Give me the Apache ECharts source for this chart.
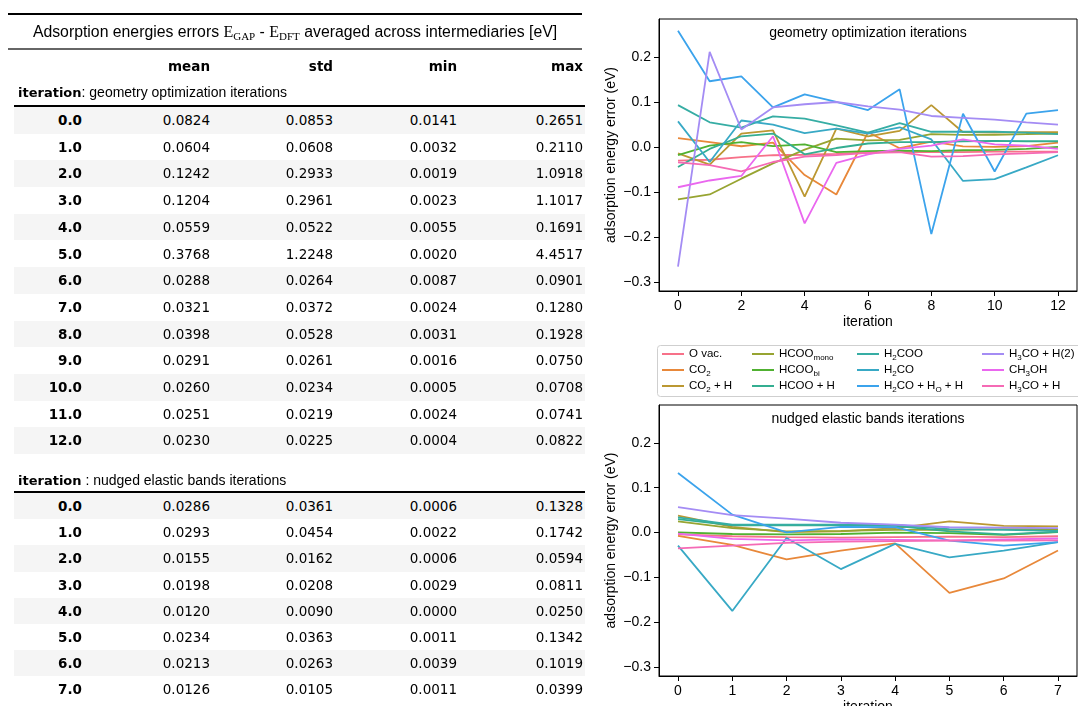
<!DOCTYPE html>
<html>
<head>
<meta charset="utf-8">
<script src="https://cdn.jsdelivr.net/npm/echarts@6/dist/echarts.min.js"></script>
<style>
  html, body { margin: 0; padding: 0; background: #fff; }
  #chart { position: absolute; left: 0; top: 0; width: 1078px; height: 706px; }
  #table { position: absolute; left: 0; top: 0; width: 600px; height: 706px; color: #000; font-family: 'DejaVu Sans', sans-serif; }
  #table div { position: absolute; white-space: nowrap; }
  .num { text-align: right; font-size: 13.5px; }
  .idx { text-align: right; font-size: 13.5px; font-weight: bold; }
  .hdr { text-align: right; font-size: 13.5px; font-weight: bold; }
  .sec b { font-family: 'DejaVu Sans'; font-size: 13px; }
  .sec span { font-family: 'Liberation Sans', Arial, sans-serif; font-size: 14px; }
  .ttl { font-family: 'Liberation Sans', Arial, sans-serif; font-size: 15.8px; }
  .ttl .m { font-family: 'Liberation Serif', 'DejaVu Serif', serif; font-size: 16px; }
  .ttl sub { font-size: 11px; vertical-align: -3px; line-height: 0; }
</style>
</head>
<body>
<div id="chart"></div>
<div id="table"></div>
<script>
// ---- summary table: mean / std / min / max of |E_GAP - E_DFT| per iteration ----
const tableColumns = ['mean', 'std', 'min', 'max'];

const geoIterLabels = ['0.0', '1.0', '2.0', '3.0', '4.0', '5.0', '6.0', '7.0', '8.0', '9.0', '10.0', '11.0', '12.0'];
const geoMean = ['0.0824', '0.0604', '0.1242', '0.1204', '0.0559', '0.3768', '0.0288', '0.0321', '0.0398', '0.0291', '0.0260', '0.0251', '0.0230'];
const geoStd  = ['0.0853', '0.0608', '0.2933', '0.2961', '0.0522', '1.2248', '0.0264', '0.0372', '0.0528', '0.0261', '0.0234', '0.0219', '0.0225'];
const geoMin  = ['0.0141', '0.0032', '0.0019', '0.0023', '0.0055', '0.0020', '0.0087', '0.0024', '0.0031', '0.0016', '0.0005', '0.0024', '0.0004'];
const geoMax  = ['0.2651', '0.2110', '1.0918', '1.1017', '0.1691', '4.4517', '0.0901', '0.1280', '0.1928', '0.0750', '0.0708', '0.0741', '0.0822'];

const nebIterLabels = ['0.0', '1.0', '2.0', '3.0', '4.0', '5.0', '6.0', '7.0'];
const nebMean = ['0.0286', '0.0293', '0.0155', '0.0198', '0.0120', '0.0234', '0.0213', '0.0126'];
const nebStd  = ['0.0361', '0.0454', '0.0162', '0.0208', '0.0090', '0.0363', '0.0263', '0.0105'];
const nebMin  = ['0.0006', '0.0022', '0.0006', '0.0029', '0.0000', '0.0011', '0.0039', '0.0011'];
const nebMax  = ['0.1328', '0.1742', '0.0594', '0.0811', '0.0250', '0.1342', '0.1019', '0.0399'];

// ---- per-intermediate adsorption energy errors (eV) ----
const intermediates = ['O vac.', 'CO2', 'CO2 + H', 'HCOO_mono', 'HCOO_bi', 'HCOO + H',
                       'H2COO', 'H2CO', 'H2CO + H_O + H', 'H3CO + H(2)', 'CH3OH', 'H3CO + H'];
const colors = ['#f77189', '#e8883a', '#bb9832', '#97a431', '#50b131', '#34ae91',
                '#36ada4', '#38a9c5', '#3ba3ec', '#a48cf4', '#ea67ef', '#f56ab5'];

const geoIter = [0, 1, 2, 3, 4, 5, 6, 7, 8, 9, 10, 11, 12];
const geoOvac      = [-0.030, -0.028, -0.022, -0.018, -0.017, -0.015, -0.012, -0.011, -0.011, -0.011, -0.010, -0.010, -0.010];
const geoCO2       = [0.020, 0.011, 0.0019, 0.010, -0.062, -0.105, 0.033, -0.0024, 0.012, 0.0016, 0.0005, 0.0024, 0.010];
const geoCO2H      = [-0.0141, -0.039, 0.030, 0.037, -0.110, 0.041, 0.024, 0.036, 0.093, 0.033, 0.032, 0.033, 0.033];
const geoHCOOmono  = [-0.116, -0.105, -0.070, -0.036, -0.0055, 0.019, 0.015, 0.016, 0.029, 0.027, 0.027, 0.029, 0.030];
const geoHCOObi    = [-0.018, 0.0032, 0.011, 0.0023, 0.006, -0.011, -0.0087, -0.008, -0.009, -0.007, -0.006, -0.004, 0.0004];
const geoHCOOH     = [-0.044, -0.004, 0.024, 0.030, -0.016, -0.002, 0.008, 0.011, 0.011, 0.013, 0.014, 0.013, 0.013];
const geoH2COO     = [0.093, 0.055, 0.043, 0.068, 0.063, 0.048, 0.032, 0.053, 0.034, 0.034, 0.034, 0.032, 0.029];
const geoH2CO      = [0.057, -0.033, 0.059, 0.050, 0.031, 0.041, 0.030, 0.044, 0.017, -0.0750, -0.0708, -0.045, -0.018];
const geoH2COHOH   = [0.258, 0.146, 0.157, 0.088, 0.117, 0.100, 0.082, 0.1280, -0.1928, 0.074, -0.054, 0.0741, 0.0822];
const geoH3COH2    = [-0.2651, 0.2110, 0.039, 0.088, 0.095, 0.100, 0.0901, 0.083, 0.069, 0.065, 0.061, 0.055, 0.050];
const geoCH3OH     = [-0.089, -0.074, -0.064, 0.024, -0.1691, -0.035, -0.016, -0.004, 0.0031, 0.017, 0.006, 0.003, -0.004];
const geoH3COH     = [-0.034, -0.040, -0.054, -0.033, -0.021, -0.018, -0.013, -0.011, -0.021, -0.020, -0.016, -0.014, -0.011];

const nebIter = [0, 1, 2, 3, 4, 5, 6, 7];
const nebOvac      = [-0.004, -0.008, -0.010, -0.011, -0.010, -0.009, -0.010, -0.008];
const nebCO2       = [-0.007, -0.027, -0.0594, -0.040, -0.024, -0.1342, -0.1019, -0.0399];
const nebCO2H      = [0.038, 0.013, 0.001, 0.0029, 0.010, 0.025, 0.015, 0.014];
const nebHCOOmono  = [0.025, 0.010, 0.003, 0.004, 0.006, 0.006, 0.008, 0.008];
const nebHCOObi    = [0.0006, -0.003, -0.004, -0.003, 0.0000, -0.0011, -0.005, 0.0011];
const nebHCOOH     = [0.030, 0.016, 0.016, 0.016, 0.015, 0.003, -0.0039, 0.002];
const nebH2COO     = [0.034, 0.018, 0.018, 0.018, 0.017, 0.008, 0.006, 0.004];
const nebH2CO      = [-0.029, -0.1742, -0.012, -0.0811, -0.0250, -0.055, -0.040, -0.021];
const nebH2COHOH   = [0.1328, 0.040, 0.0006, 0.013, 0.012, -0.018, -0.029, -0.021];
const nebH3COH2    = [0.057, 0.039, 0.031, 0.022, 0.018, 0.012, 0.011, 0.010];
const nebCH3OH     = [-0.002, -0.014, -0.017, -0.015, -0.016, -0.017, -0.015, -0.013];
const nebH3COH     = [-0.035, -0.029, -0.023, -0.020, -0.019, -0.018, -0.018, -0.017];

const geoSeries = [geoOvac, geoCO2, geoCO2H, geoHCOOmono, geoHCOObi, geoHCOOH,
                   geoH2COO, geoH2CO, geoH2COHOH, geoH3COH2, geoCH3OH, geoH3COH];
const nebSeries = [nebOvac, nebCO2, nebCO2H, nebHCOOmono, nebHCOObi, nebHCOOH,
                   nebH2COO, nebH2CO, nebH2COHOH, nebH3COH2, nebCH3OH, nebH3COH];

const geoTicks = [0, 2, 4, 6, 8, 10, 12];
const nebTicks = [0, 1, 2, 3, 4, 5, 6, 7];
const yTicks = [-0.3, -0.2, -0.1, 0.0, 0.1, 0.2];

// ---------- table ----------
const T = document.getElementById('table');
function el(html, css, cls) {
  const d = document.createElement('div');
  if (cls) d.className = cls;
  d.innerHTML = html;
  Object.assign(d.style, css);
  T.appendChild(d);
  return d;
}
function hline(y, x0, x1, w, c) {
  el('', { left: x0 + 'px', top: (y - w / 2) + 'px', width: (x1 - x0) + 'px', height: w + 'px', background: c });
}
const colRight = [210, 333, 457, 583];
const idxRight = 82;

hline(14, 8, 582, 2, '#000');
el('Adsorption energies errors <span class="m">E<sub>GAP</sub></span> - <span class="m">E<sub>DFT</sub></span> averaged across intermediaries [eV]',
   { left: '0px', width: '590px', top: '22px', lineHeight: '20px', textAlign: 'center' }, 'ttl');
hline(49, 8, 582, 2, '#666');
tableColumns.forEach((c, k) => {
  el(c, { left: (colRight[k] - 100) + 'px', width: '100px', top: '57px', lineHeight: '18px' }, 'hdr');
});

function section(labelHtml, labelY, lineY, rowH, labels, cols) {
  el(labelHtml, { left: '18px', top: (labelY - 10) + 'px', lineHeight: '20px' }, 'sec');
  hline(lineY, 14, 585, 1.5, '#000');
  labels.forEach((lab, i) => {
    const top = lineY + 1 + i * rowH;
    if (i % 2 === 0) {
      el('', { left: '14px', width: '571px', top: top + 'px', height: rowH + 'px', background: '#f5f5f5' });
    }
    el(lab, { left: (idxRight - 80) + 'px', width: '80px', top: top + 'px', lineHeight: rowH + 'px' }, 'idx');
    cols.forEach((arr, k) => {
      el(arr[i], { left: (colRight[k] - 100) + 'px', width: '100px', top: top + 'px', lineHeight: rowH + 'px' }, 'num');
    });
  });
}
section('<b>iteration</b><span>: geometry optimization iterations</span>', 92, 106, 26.7,
        geoIterLabels, [geoMean, geoStd, geoMin, geoMax]);
section('<b>iteration</b><span> : nudged elastic bands iterations</span>', 480, 492, 26.2,
        nebIterLabels, [nebMean, nebStd, nebMin, nebMax]);

// ---------- charts ----------
const FONT = 'Liberation Sans';
const legendRich = {
  'O vac.': '{n|O vac.}',
  'CO2': '{n|CO}{s|2}',
  'CO2 + H': '{n|CO}{s|2}{n| + H}',
  'HCOO_mono': '{n|HCOO}{s|mono}',
  'HCOO_bi': '{n|HCOO}{s|bi}',
  'HCOO + H': '{n|HCOO + H}',
  'H2COO': '{n|H}{s|2}{n|COO}',
  'H2CO': '{n|H}{s|2}{n|CO}',
  'H2CO + H_O + H': '{n|H}{s|2}{n|CO + H}{s|O}{n| + H}',
  'H3CO + H(2)': '{n|H}{s|3}{n|CO + H(2)}',
  'CH3OH': '{n|CH}{s|3}{n|OH}',
  'H3CO + H': '{n|H}{s|3}{n|CO + H}'
};

const grids = [
  { left: 659, top: 19, width: 418, height: 272, outerBoundsMode: 'none',
    show: true, borderColor: '#000', borderWidth: 1, backgroundColor: 'transparent' },
  { left: 659, top: 405, width: 418, height: 271, outerBoundsMode: 'none',
    show: true, borderColor: '#000', borderWidth: 1, backgroundColor: 'transparent' }
];

function xAxisFor(gi, ticks, lo, hi) {
  return {
    type: 'value', gridIndex: gi, min: lo, max: hi,
    name: 'iteration', nameLocation: 'middle', nameGap: 24,
    nameTextStyle: { fontFamily: FONT, fontSize: 14, color: '#000' },
    axisLine: { show: true, onZero: false, lineStyle: { color: '#000', width: 1 } },
    axisTick: { show: true, length: 5, customValues: ticks, lineStyle: { color: '#000', width: 1 } },
    axisLabel: { customValues: ticks, margin: 8, fontFamily: FONT, fontSize: 14, color: '#000',
                 formatter: v => String(Math.round(v)) },
    splitLine: { show: false }
  };
}
function yAxisFor(gi) {
  return {
    type: 'value', gridIndex: gi, min: -0.319, max: 0.284,
    name: 'adsorption energy error (eV)', nameLocation: 'middle', nameGap: 41,
    nameTextStyle: { fontFamily: FONT, fontSize: 14, color: '#000' },
    axisLine: { show: true, onZero: false, lineStyle: { color: '#000', width: 1 } },
    axisTick: { show: true, length: 5, customValues: yTicks, lineStyle: { color: '#000', width: 1 } },
    axisLabel: { customValues: yTicks, margin: 8, fontFamily: FONT, fontSize: 14, color: '#000',
                 formatter: v => (v < -1e-9 ? '\u2212' : '') + Math.abs(v).toFixed(1) },
    splitLine: { show: false }
  };
}

const series = [];
intermediates.forEach((name, k) => {
  series.push({
    name, type: 'line', xAxisIndex: 0, yAxisIndex: 0, symbol: 'none',
    color: colors[k], lineStyle: { width: 1.8, color: colors[k] },
    data: geoIter.map((x, i) => [x, geoSeries[k][i]])
  });
});
intermediates.forEach((name, k) => {
  series.push({
    name, type: 'line', xAxisIndex: 1, yAxisIndex: 1, symbol: 'none',
    color: colors[k], lineStyle: { width: 1.8, color: colors[k] },
    data: nebIter.map((x, i) => [x, nebSeries[k][i]])
  });
});

// four legend columns, three entries each (column-major order)
const legendCols = [662, 752, 857, 982];
const legends = legendCols.map((x, c) => ({
  orient: 'vertical', left: x, top: 346, padding: 0, itemGap: 0,
  itemWidth: 22, itemHeight: 2, icon: 'rect', selectedMode: false,
  data: intermediates.slice(c * 3, c * 3 + 3),
  formatter: name => legendRich[name],
  textStyle: {
    fontFamily: FONT, fontSize: 11.5, lineHeight: 16, color: '#000',
    rich: {
      n: { fontFamily: FONT, fontSize: 11.5, lineHeight: 16, color: '#000' },
      s: { fontFamily: FONT, fontSize: 8, lineHeight: 10, verticalAlign: 'bottom', color: '#000' }
    }
  }
}));

const chart = echarts.init(document.getElementById('chart'), null, { renderer: 'canvas' });
chart.setOption({
  animation: false,
  backgroundColor: 'transparent',
  grid: grids,
  xAxis: [xAxisFor(0, geoTicks, -0.6, 12.6), xAxisFor(1, nebTicks, -0.35, 7.35)],
  yAxis: [yAxisFor(0), yAxisFor(1)],
  legend: legends,
  graphic: [
    { type: 'rect', z: -1, shape: { x: 657.5, y: 345.5, width: 425, height: 51, r: 3 },
      style: { fill: '#fff', stroke: '#cfcfcf', lineWidth: 1 } },
    { type: 'text', x: 868, y: 33, style: { text: 'geometry optimization iterations', align: 'center', verticalAlign: 'middle',
      fontFamily: FONT, fontSize: 14, fill: '#000' } },
    { type: 'text', x: 868, y: 419, style: { text: 'nudged elastic bands iterations', align: 'center', verticalAlign: 'middle',
      fontFamily: FONT, fontSize: 14, fill: '#000' } }
  ],
  series
});
</script>
</body>
</html>
